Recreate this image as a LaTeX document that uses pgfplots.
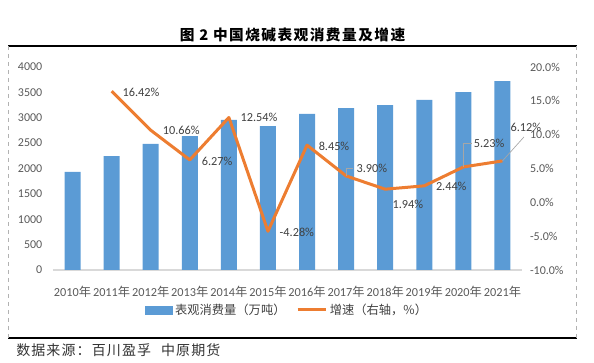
\documentclass[border=0pt]{standalone}
\usepackage{pgfplots}
\pgfplotsset{compat=1.18}
\usepackage{fontspec}
\setmainfont{Carlito}
\newfontfamily\cjk{Noto Sans CJK SC}
\newfontfamily\cjktitle{Noto Sans CJK SC}[LetterSpace=10]
\newfontfamily\cjksrc{Noto Sans CJK SC}[LetterSpace=8]
\definecolor{barblue}{HTML}{5B9BD5}
\definecolor{lineorange}{HTML}{ED7D31}
\definecolor{ticktext}{HTML}{595959}
\definecolor{labeltext}{HTML}{404040}
\definecolor{axisgray}{HTML}{D9D9D9}
\definecolor{leadergray}{HTML}{A6A6A6}
\newcommand{\PX}[2]{({#1*0.75pt},{(363-#2)*0.75pt})}
\begin{document}
\begin{tikzpicture}
\path[use as bounding box] (0,0) rectangle (445.5pt,272.25pt);
% frame lines
\draw[black, line width=0.9pt] \PX{8}{46} -- \PX{577}{46};
\draw[black, line width=0.9pt] \PX{8}{338} -- \PX{577}{338};
\draw[gray!60, dashed, line width=0.4pt] \PX{8}{46} -- \PX{8}{338};
\draw[gray!60, dashed, line width=0.4pt] \PX{576.5}{46} -- \PX{576.5}{338};
% title
\node[font=\cjktitle\bfseries\fontsize{11pt}{12pt}\selectfont, anchor=center] at \PX{292.5}{35} {图 2 中国烧碱表观消费量及增速};
% source
\node[font=\cjksrc\fontsize{10.5pt}{12pt}\selectfont, text=black!80, anchor=west, inner sep=0pt] at \PX{16}{350} {数据来源：百川盈孚\hspace{0.7em}中原期货};

\begin{axis}[
  at={(39.75pt,69.75pt)}, anchor=south west,
  scale only axis, width=351.75pt, height=152.25pt,
  xmin=-0.5, xmax=11.5, ymin=0, ymax=4000,
  ytick={0,500,...,4000},
  xtick={0,...,11},
  xticklabels={2010\cjk{年},2011\cjk{年},2012\cjk{年},2013\cjk{年},2014\cjk{年},2015\cjk{年},2016\cjk{年},2017\cjk{年},2018\cjk{年},2019\cjk{年},2020\cjk{年},2021\cjk{年}},
  axis y line*=left, axis x line*=bottom,
  y axis line style={draw=none},
  x axis line style={draw=axisgray, line width=0.8pt},
  tick style={draw=none},
  /pgf/number format/assume math mode=true,
  /pgf/number format/1000 sep={},
  tick label style={font=\fontsize{9pt}{10pt}\selectfont, text=ticktext},
  yticklabel style={xshift=-4.5pt},
  xticklabel style={yshift=-4pt, font=\fontsize{9.2pt}{10pt}\selectfont},
  ybar, bar width=12pt,
]
\addplot[fill=barblue, draw=none] coordinates {
(0,1931) (1,2246) (2,2483) (3,2640) (4,2956) (5,2837) (6,3074) (7,3192) (8,3251) (9,3350) (10,3507) (11,3724)};
\end{axis}

\begin{axis}[
  at={(39.75pt,69.75pt)}, anchor=south west,
  scale only axis, width=351.75pt, height=152.25pt,
  xmin=-0.5, xmax=11.5, ymin=-10, ymax=20,
  ytick={-10,-5,...,20},
  axis y line*=right, axis x line=none,
  y axis line style={draw=none},
  tick style={draw=none},
  clip=false,
  /pgf/number format/assume math mode=true,
  yticklabel={\pgfmathprintnumber[fixed,fixed zerofill,precision=1]{\tick}\%},
  tick label style={font=\fontsize{9pt}{10pt}\selectfont, text=ticktext},
  yticklabel style={xshift=2.5pt},
  legend style={at={(0.5,-0.197)}, anchor=center, draw=none, fill=none,
    font=\cjk\fontsize{9.2pt}{10pt}\selectfont, text=labeltext,
    legend columns=2,
    /tikz/every even column/.append style={column sep=6pt}},
]
\addlegendimage{legend image code/.code={\fill[barblue] (0pt,-3pt) rectangle (20pt,3pt);}}
\addlegendentry{表观消费量（万吨）}
\addplot[lineorange, line width=2.25pt, line join=round, no marks,
  legend image code/.code={\draw[lineorange, line width=2.25pt] (0pt,0pt) -- (21pt,0pt);}] coordinates {
(1,16.42) (2,10.66) (3,6.27) (4,12.54) (5,-4.28) (6,8.45) (7,3.90) (8,1.94) (9,2.44) (10,5.23) (11,6.12)};
\addlegendentry{增速（右轴，\%）}
% leader lines
\draw[leadergray, line width=0.5pt] (axis cs:7,3.90) -- (axis cs:7,5.08) -- (axis cs:7.18,5.08);
\draw[leadergray, line width=0.5pt] (axis cs:10,5.23) -- (axis cs:10,8.77) -- (axis cs:10.22,8.77);
\draw[leadergray, line width=0.5pt] (axis cs:11,6.12) -- (axis cs:11.55,9.66);
% data labels
\begin{scope}[every node/.style={font=\fontsize{9.2pt}{10pt}\selectfont, text=labeltext, inner sep=0pt}]
\node at (axis cs:1.75,16.3) {16.42\%};
\node at (axis cs:2.78,10.7) {10.66\%};
\node at (axis cs:3.70,6.1) {6.27\%};
\node at (axis cs:4.77,12.5) {12.54\%};
\node at (axis cs:5.74,-4.38) {-4.28\%};
\node at (axis cs:6.69,8.33) {8.45\%};
\node at (axis cs:7.66,5.08) {3.90\%};
\node at (axis cs:8.58,-0.25) {1.94\%};
\node at (axis cs:9.69,2.42) {2.44\%};
\node at (axis cs:10.66,8.77) {5.23\%};
\node at (axis cs:11.6,11.1) {6.12\%};
\end{scope}
\end{axis}
\end{tikzpicture}
\end{document}
